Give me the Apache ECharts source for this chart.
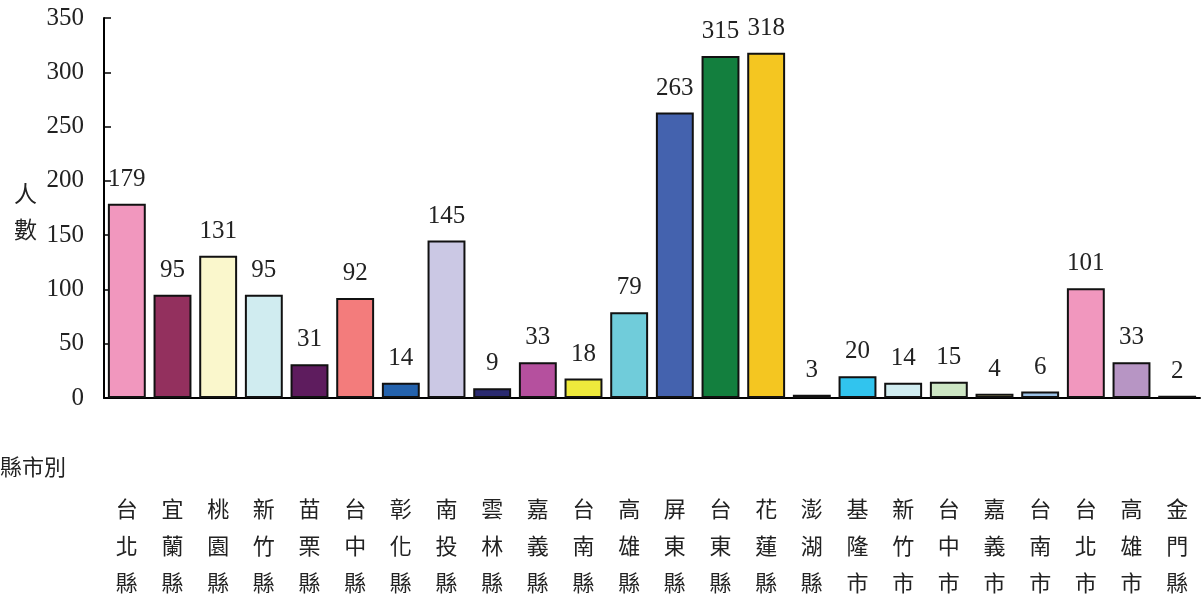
<!DOCTYPE html>
<html>
<head>
<meta charset="utf-8">
<script src="https://cdn.jsdelivr.net/npm/echarts@6/dist/echarts.min.js"></script>
<style>
	html, body { margin: 0; padding: 0; background: #fff; }
	#main { width: 1204px; height: 597px; }
</style>
</head>
<body>
<div id="main"></div>
<script>
const counties = ['台北縣', '宜蘭縣', '桃園縣', '新竹縣', '苗栗縣', '台中縣', '彰化縣', '南投縣', '雲林縣', '嘉義縣', '台南縣', '高雄縣', '屏東縣', '台東縣', '花蓮縣', '澎湖縣', '基隆市', '新竹市', '台中市', '嘉義市', '台南市', '台北市', '高雄市', '金門縣']
const people = [179, 95, 131, 95, 31, 92, 14, 145, 9, 33, 18, 79, 263, 315, 318, 3, 20, 14, 15, 4, 6, 101, 33, 2]
const barColors = ['#f197be', '#93305e', '#faf7cc', '#d0ecf0', '#5e1c5e', '#f37c7c', '#2462ac', '#cbc8e4', '#2a2a70', '#b5509e', '#efea3c', '#70ccda', '#4462ae', '#137f3e', '#f4c621', '#2a3a8a', '#31c4ee', '#d0ecf0', '#cde6c4', '#f8f29a', '#9cc2e8', '#f197be', '#b795c4', '#111111']
const yTicks = [0, 50, 100, 150, 200, 250, 300, 350]

const serif = '"Liberation Serif", "DejaVu Serif", serif'
const cjk = '"Noto Sans CJK TC", "Noto Sans CJK SC", sans-serif'

chart = () => {
	var myChart = echarts.init(document.getElementById('main'))

	// Bar data, one colour per county
	const chartData = people.map((value, index) => {
		return {
			value: value,
			itemStyle: { color: barColors[index] },
		}
	})

	const option = {
		animation: false,
		backgroundColor: '#fff',
		grid: {
			left: 104,
			right: 4,
			top: 18,
			bottom: 199,
			outerBoundsMode: 'none',
		},
		xAxis: {
			type: 'category',
			data: counties,
			axisLine: { lineStyle: { color: '#000', width: 2 } },
			axisTick: { inside: true, length: 6, lineStyle: { color: '#000', width: 1 } },
			axisLabel: {
				color: '#222',
				fontFamily: cjk,
				fontSize: 22,
				lineHeight: 37,
				margin: 92,
				interval: 0,
				formatter: (v) => v.split('').join('\n'),
			},
		},
		yAxis: {
			type: 'value',
			min: yTicks[0],
			max: yTicks[yTicks.length - 1],
			interval: 50,
			axisLine: { show: true, lineStyle: { color: '#000', width: 2 } },
			axisTick: { show: true, inside: true, length: 7, lineStyle: { color: '#000', width: 1.5 } },
			splitLine: { show: false },
			axisLabel: {
				color: '#222',
				fontFamily: serif,
				fontSize: 25,
				margin: 20,
			},
		},
		graphic: [
			{
				type: 'text',
				left: 14,
				top: 175,
				style: {
					text: '人\n數',
					fontFamily: cjk,
					fontSize: 23,
					lineHeight: 36,
					fill: '#222',
				},
			},
			{
				type: 'text',
				left: 0,
				top: 456,
				style: {
					text: '縣市別',
					fontFamily: cjk,
					fontSize: 22,
					fill: '#222',
				},
			},
		],
		series: [
			{
				type: 'bar',
				data: chartData,
				barCategoryGap: '17%',
				itemStyle: {
					borderColor: '#111',
					borderWidth: 2,
				},
				label: {
					show: true,
					position: 'top',
					distance: 12,
					color: '#222',
					fontFamily: serif,
					fontSize: 25,
				},
			},
		],
	}

	myChart.setOption(option)
}

chart()
</script>
</body>
</html>
